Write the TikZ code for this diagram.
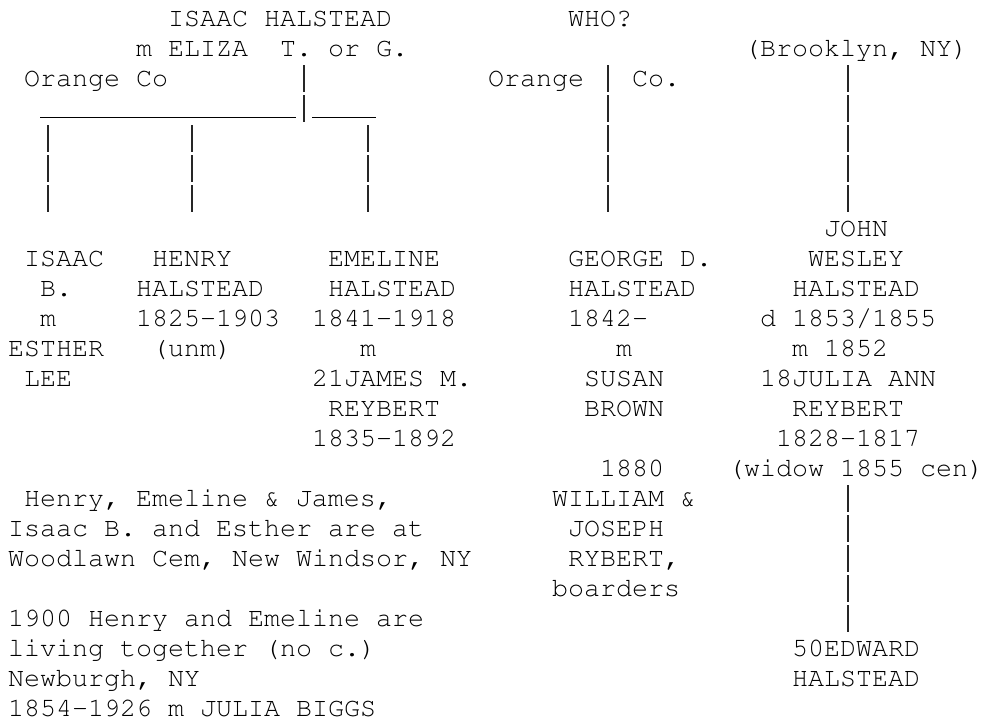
\documentclass[tikz,border=0pt]{standalone}
\usepackage[T1]{fontenc}
\usepackage{courier}
\usepackage{tikz}

\tikzset{
  chart/.style={x=12pt, y=-22.5pt},
  txt/.style={anchor=base west, inner sep=0pt, outer sep=0pt,
    font={\fontsize{20}{22.5}\ttfamily\frenchspacing}},
  pipe/.style={draw=black!85, line width=0.95pt, dash pattern=on 20pt off 2.5pt},
  rule/.style={draw=black, line width=0.9pt},
}

\begin{document}
\begin{tikzpicture}[chart]
  \useasboundingbox (0,0) rectangle (61.375,24.1);
  \fill[white] (0,0) rectangle (61.375,24.1);
  \begin{scope}[shift={(0.5,-0.13)}]
    % parents
    \node[txt] (isaacH)  at (10,1) {ISAAC HALSTEAD};
    \node[txt] (who)     at (35,1) {WHO?};
    \node[txt] (elizaA)  at (8,2)  {m ELIZA};
    \node[txt] (elizaB)  at (17,2) {T. or G.};
    \node[txt] (brook)   at (46,2) {(Brooklyn, NY)};
    \node[txt] (orangeA) at (1,3)  {Orange Co};
    \node[txt] (orangeB) at (30,3) {Orange};
    \node[txt] (coB)     at (39,3) {Co.};
    % isaac b.
    \node[txt] (isaacB1) at (1,9)  {ISAAC};
    \node[txt] (isaacB2) at (2,10) {B.};
    \node[txt] (isaacB3) at (2,11) {m};
    \node[txt] (isaacB4) at (0,12) {ESTHER};
    \node[txt] (isaacB5) at (1,13) {LEE};
    % henry
    \node[txt] (henry1)  at (9,9)  {HENRY};
    \node[txt] (henry2)  at (8,10) {HALSTEAD};
    \node[txt] (henry3)  at (8,11) {1825-1903};
    \node[txt] (henry4)  at (9,12) {(unm)};
    % emeline
    \node[txt] (emel1)   at (20,9)  {EMELINE};
    \node[txt] (emel2)   at (20,10) {HALSTEAD};
    \node[txt] (emel3)   at (19,11) {1841-1918};
    \node[txt] (emel4)   at (22,12) {m};
    \node[txt] (emel5)   at (19,13) {21JAMES M.};
    \node[txt] (emel6)   at (20,14) {REYBERT};
    \node[txt] (emel7)   at (19,15) {1835-1892};
    % george
    \node[txt] (george1) at (35,9)  {GEORGE D.};
    \node[txt] (george2) at (35,10) {HALSTEAD};
    \node[txt] (george3) at (35,11) {1842-};
    \node[txt] (george4) at (38,12) {m};
    \node[txt] (george5) at (36,13) {SUSAN};
    \node[txt] (george6) at (36,14) {BROWN};
    \node[txt] (george7) at (37,16) {1880};
    \node[txt] (george8) at (34,17) {WILLIAM \&};
    \node[txt] (george9) at (35,18) {JOSEPH};
    \node[txt] (georgeA) at (35,19) {RYBERT,};
    \node[txt] (georgeB) at (34,20) {boarders};
    % john wesley
    \node[txt] (john1)   at (51,8)  {JOHN};
    \node[txt] (john2)   at (50,9)  {WESLEY};
    \node[txt] (john3)   at (49,10) {HALSTEAD};
    \node[txt] (john4)   at (47,11) {d 1853/1855};
    \node[txt] (john5)   at (49,12) {m 1852};
    \node[txt] (john6)   at (47,13) {18JULIA ANN};
    \node[txt] (john7)   at (49,14) {REYBERT};
    \node[txt] (john8)   at (48,15) {1828-1817};
    \node[txt] (john9)   at (45,16) {(widow 1855 cen)};
    \node[txt] (edward1) at (49,22) {50EDWARD};
    \node[txt] (edward2) at (49,23) {HALSTEAD};
    % notes
    \node[txt] (noteA1)  at (1,17) {Henry, Emeline \& James,};
    \node[txt] (noteA2)  at (0,18) {Isaac B. and Esther are at};
    \node[txt] (noteA3)  at (0,19) {Woodlawn Cem, New Windsor, NY};
    \node[txt] (noteB1)  at (0,21) {1900 Henry and Emeline are};
    \node[txt] (noteB2)  at (0,22) {living together (no c.)};
    \node[txt] (noteB3)  at (0,23) {Newburgh, NY};
    \node[txt] (noteB4)  at (0,24) {1854-1926 m JULIA BIGGS};
    % lines of descent
    \coordinate (barL) at (2,4.045);
    \coordinate (barM) at (18,4.045);
    \coordinate (barN) at (19,4.045);
    \coordinate (barR) at (23,4.045);
    \draw[rule] (barL) -- (barM) (barN) -- (barR);
    \coordinate (isaacTop) at (18.5,2.3);
    \coordinate (isaacBot) at (18.5,4.19);
    \draw[pipe] (isaacTop) -- (isaacBot);
    \foreach \c/\n in {2/isaacB, 11/henry, 22/emel}{
      \coordinate (\n Top) at (\c+0.5,4.3);
      \coordinate (\n Bot) at (\c+0.5,7.19);
      \draw[pipe] (\n Top) -- (\n Bot);
    }
    \foreach \c/\n in {37/george, 52/john}{
      \coordinate (\n Top) at (\c+0.5,2.3);
      \coordinate (\n Bot) at (\c+0.5,7.19);
      \draw[pipe] (\n Top) -- (\n Bot);
    }
    \coordinate (edwardTop) at (52.5,16.3);
    \coordinate (edwardBot) at (52.5,21.19);
    \draw[pipe] (edwardTop) -- (edwardBot);
  \end{scope}
\end{tikzpicture}
\end{document}
